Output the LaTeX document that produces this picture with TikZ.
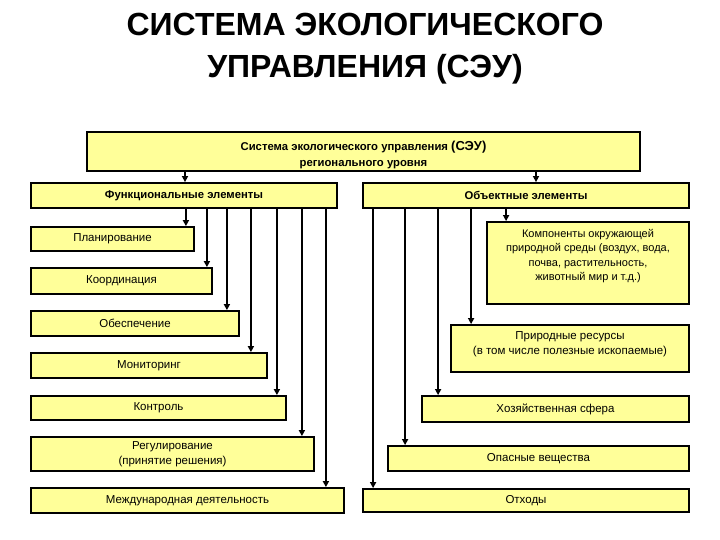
\documentclass[tikz,border=0pt]{standalone}
\usepackage{fontspec}
\setmainfont{Liberation Sans}
\usetikzlibrary{arrows.meta,positioning,calc}
\definecolor{boxfill}{RGB}{255,255,153}
\tikzset{
  blk/.style={draw,line width=1.8pt,fill=boxfill,align=center,inner sep=2pt,
              font=\fontsize{11.5}{14.5}\selectfont},   % жёлтый блок
  hdr/.style={blk,font=\bfseries\fontsize{11.3}{16}\selectfont},  % заголовочный блок
  ar/.style={-{Triangle[length=6pt,width=6pt]},line width=2pt}  % стрелка вниз
}
\newcommand{\topbox}[3]{\parbox[c][#1][t]{#2}{\centering #3}}

\begin{document}
\begin{tikzpicture}[x=1pt,y=-1pt]
  \useasboundingbox (0,0) rectangle (720,540);
  \node[font=\bfseries\fontsize{32}{42}\selectfont,align=center] (title) at (365,49)
    {СИСТЕМА ЭКОЛОГИЧЕСКОГО\\УПРАВЛЕНИЯ (СЭУ)};
  % верхний уровень
  \node[hdr,minimum width=553,minimum height=37] (seu) at (363.5,151.5)
    {\parbox[c][33pt][b]{400pt}{\centering Система экологического управления
     {\fontsize{13}{14}\selectfont(СЭУ)}\\регионального уровня}};
  \node[hdr,minimum width=306,minimum height=25] (func) at (184,195.5) {Функциональные элементы};
  \node[hdr,minimum width=326,minimum height=25] (obj) at (526,195.5) {Объектные элементы};
  % функциональные элементы
  \node[blk,minimum width=163,minimum height=24] (plan) at (112.5,239) {Планирование};
  \node[blk,minimum width=181,minimum height=26] (coord) at (121.5,281) {Координация};
  \node[blk,minimum width=208,minimum height=25] (obesp) at (135,323.5) {Обеспечение};
  \node[blk,minimum width=236,minimum height=25] (monit) at (149,365.5) {Мониторинг};
  \node[blk,minimum width=255,minimum height=24] (kontr) at (158.5,408) {Контроль};
  \node[blk,minimum width=283,minimum height=34] (regul) at (172.5,454) {Регулирование\\(принятие решения)};
  \node[blk,minimum width=313,minimum height=25] (mezhd) at (187.5,500.5) {Международная деятельность};
  % объектные элементы
  \node[blk,minimum width=202,minimum height=82] (komp) at (588,263)
    {\topbox{68pt}{194pt}{\fontsize{11}{14.5}\selectfont Компоненты окружающей\\природной среды (воздух, вода,\\почва, растительность,\\животный мир и т.д.)}};
  \node[blk,minimum width=238,minimum height=47] (prir) at (570,348.5)
    {\topbox{33pt}{232pt}{Природные ресурсы\\(в том числе полезные ископаемые)}};
  \node[blk,minimum width=267,minimum height=26] (hoz) at (555.5,409) {Хозяйственная сфера};
  \node[blk,minimum width=301,minimum height=25] (opas) at (538.5,458.5) {Опасные вещества};
  \node[blk,minimum width=326,minimum height=23] (otx) at (526,500.5) {Отходы};
  % стрелки
  \coordinate (func-in) at ([xshift=1]func.north);
  \coordinate (obj-in) at ([xshift=10]obj.north);
  \draw[ar,line width=1.5pt] (seu.south -| func-in) -- (func-in);
  \draw[ar,line width=1.5pt] (seu.south -| obj-in) -- (obj-in);
  \foreach \n/\d in {plan/9,coord/6,obesp/13,monit/17,kontr/10,regul/13,mezhd/19}{
    \coordinate (\n-in) at ([xshift=-\d]\n.north east);
    \draw[ar] (func.south -| \n-in) -- (\n-in);
  }
  \foreach \n/\d in {komp/20,prir/21,hoz/17,opas/18,otx/11}{
    \coordinate (\n-in) at ([xshift=\d]\n.north west);
    \draw[ar] (obj.south -| \n-in) -- (\n-in);
  }
\end{tikzpicture}
\end{document}
